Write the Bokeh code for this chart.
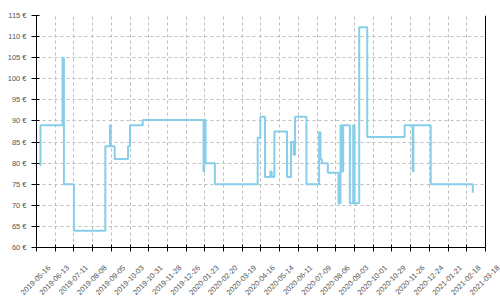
import math
import pandas as pd
from bokeh.plotting import figure
from bokeh.models import (Range1d, FixedTicker, DatetimeTickFormatter, PrintfTickFormatter,
                          DatetimeAxis, Span, BoxAnnotation)
from bokeh.embed import file_html
from bokeh.resources import INLINE

# ---- data ----
dates = [
    "2019-05-21", "2019-05-22", "2019-06-24", "2019-06-26", "2019-07-11",
    "2019-08-27", "2019-09-03", "2019-09-04", "2019-09-10", "2019-09-30",
    "2019-10-03", "2019-10-22", "2020-01-21", "2020-01-22", "2020-01-24",
    "2020-02-07", "2020-04-11", "2020-04-15", "2020-04-22", "2020-04-30",
    "2020-05-02", "2020-05-06", "2020-05-25", "2020-05-31", "2020-06-04",
    "2020-06-06", "2020-06-23", "2020-07-12", "2020-07-14", "2020-07-16",
    "2020-07-25", "2020-08-10", "2020-08-13", "2020-08-15", "2020-08-17",
    "2020-08-27", "2020-09-01", "2020-09-03", "2020-09-10", "2020-09-22",
    "2020-11-17", "2020-11-29", "2020-11-30", "2020-12-26", "2021-02-27",
]
prices = [
    79.5, 89, 105, 75, 64,
    84, 89, 84, 81, 84,
    89, 90.2, 78, 90.2, 80,
    75, 86, 91, 76.7, 78,
    76.7, 87.5, 76.7, 85, 82,
    91, 75, 87.3, 81, 80,
    77.7, 70.5, 89, 78, 89,
    70.5, 89, 70.5, 112.2, 86.2,
    89, 78, 89, 75, 73,
]
x_start = "2019-05-16"
x_end = "2021-03-18"
x_tick_dates = [
    "2019-05-16", "2019-06-13", "2019-07-11", "2019-08-08", "2019-09-05",
    "2019-10-03", "2019-10-31", "2019-11-28", "2019-12-26", "2020-01-23",
    "2020-02-20", "2020-03-19", "2020-04-16", "2020-05-14", "2020-06-11",
    "2020-07-09", "2020-08-06", "2020-09-03", "2020-10-01", "2020-10-29",
    "2020-11-26", "2020-12-24", "2021-01-21", "2021-02-18", "2021-03-18",
]
y_ticks = [60, 65, 70, 75, 80, 85, 90, 95, 100, 105, 110, 115]

# ---- layout constants ----
DAY = 86400000
right_pad_days = 22.45     # room to the right of the plot frame for the last date label
label_shift_days = 19      # tick labels are centred under their ticks

def ms(d):
    return pd.Timestamp(d).value // 10**6

xs = pd.to_datetime(dates)
tick_ms = [ms(d) for d in x_tick_dates]
x0, x1 = ms(x_start), ms(x_end)
x1_pad = x1 + right_pad_days * DAY

p = figure(
    width=500, height=300,
    x_axis_type="datetime",
    x_range=Range1d(x0, x1_pad),
    y_range=Range1d(y_ticks[0], y_ticks[-1]),
    output_backend="svg", toolbar_location=None,
    min_border_left=36, min_border_right=0, min_border_top=15, min_border_bottom=53,
)
p.background_fill_color = "white"
p.border_fill_color = "white"
p.outline_line_color = None

label_font = "Liberation Sans"
label_color = "#555555"
label_size = "7.5px"

# main x axis: line + ticks (its own labels are not drawn)
xa = p.xaxis[0]
xa.ticker = FixedTicker(ticks=tick_ms)
xa.bounds = (x0, x1)
xa.major_label_text_color = None
xa.major_label_text_font_size = "0px"
xa.major_label_standoff = 0
xa.axis_line_color = "black"
xa.major_tick_line_color = "black"
xa.major_tick_in = 3
xa.major_tick_out = 4
xa.minor_tick_line_color = None

# label axis: same dates, labels centred under the ticks
p.extra_x_ranges = {"lbl": Range1d(x0 - label_shift_days * DAY, x1_pad - label_shift_days * DAY)}
fmt = "%Y-%m-%d"
la = DatetimeAxis(
    x_range_name="lbl",
    ticker=FixedTicker(ticks=tick_ms),
    formatter=DatetimeTickFormatter(milliseconds=fmt, seconds=fmt, minsec=fmt, minutes=fmt,
                                    hourmin=fmt, hours=fmt, days=fmt, months=fmt, years=fmt),
    axis_line_color=None, major_tick_line_color=None, minor_tick_line_color=None,
    major_tick_in=0, major_tick_out=0, minor_tick_in=0, minor_tick_out=0,
    major_label_orientation=math.pi / 4, major_label_standoff=15,
    major_label_text_font=label_font, major_label_text_font_size=label_size,
    major_label_text_color=label_color,
)
p.add_layout(la, "below")

# y axis
ya = p.yaxis[0]
ya.ticker = FixedTicker(ticks=y_ticks)
ya.formatter = PrintfTickFormatter(format="%d €")
ya.major_label_text_font = label_font
ya.major_label_text_font_size = label_size
ya.major_label_text_color = label_color
ya.axis_line_color = "black"
ya.major_tick_line_color = "black"
ya.major_tick_in = 3
ya.major_tick_out = 5
ya.minor_tick_line_color = None
ya.major_label_standoff = 5

# grids
for g in (p.xgrid[0], p.ygrid[0]):
    g.grid_line_color = "#bdbdbd"
    g.grid_line_dash = "3 3"
    g.grid_line_width = 1
p.ygrid[0].ticker = FixedTicker(ticks=y_ticks)
p.xgrid[0].ticker = FixedTicker(ticks=tick_ms)

p.step(xs, prices, mode="after", line_color="#87ceeb", line_width=2)

# blank margin right of the plot area, and the right border line
p.add_layout(BoxAnnotation(left=x1, fill_color="white", fill_alpha=1.0, line_color=None))
p.add_layout(Span(location=x1, dimension="height", line_color="black", line_width=1))

open("out.html", "w").write(file_html(p, INLINE))
